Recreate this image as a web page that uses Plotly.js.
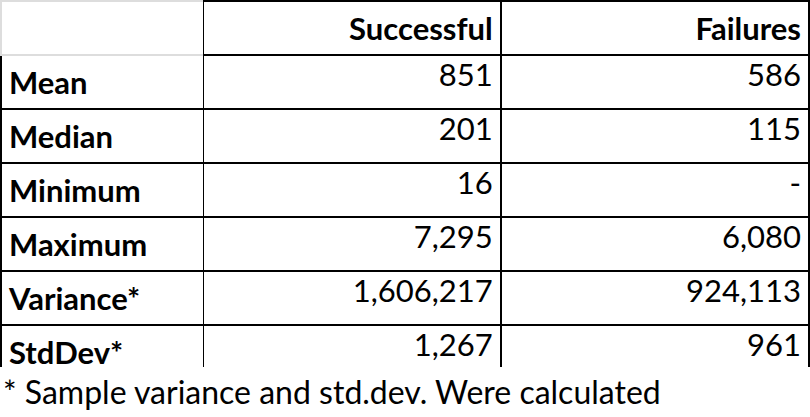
<!DOCTYPE html>
<html><head><script src="https://cdn.plot.ly/plotly-3.0.1.min.js"></script>
<style>body{margin:0;background:#fff}</style></head>
<body><div id="c" style="width:810px;height:417px"></div>
<script>
const headers = ["", "Successful", "Failures"];
const rowLabels = ["Mean", "Median", "Minimum", "Maximum", "Variance*", "StdDev*"];
const successful = ["851", "201", "16", "7,295", "1,606,217", "1,267"];
const failures = ["586", "115", "-", "6,080", "924,113", "961"];
const footnote = "* Sample variance and std.dev. Were calculated";

const F = "Lato, 'Noto Sans', sans-serif";
Plotly.newPlot("c", [{
  type: "table",
  columnwidth: [203, 298, 309],
  domain: {x: [0, 1], y: [0.12, 1]},
  header: {
    values: headers.map(h => h ? "<b>" + h + "</b>" : ""),
    align: ["left", "right", "right"],
    height: 52,
    font: {family: F, size: 31, color: "#000"},
    fill: {color: "#fff"},
    line: {color: ["#dddddd", "#000", "#000"], width: 1.5}
  },
  cells: {
    values: [rowLabels.map(r => "<b>" + r + "</b>"), successful, failures],
    align: ["left", "right", "right"],
    height: 52,
    font: {family: F, size: 31, color: "#000"},
    fill: {color: "#fff"},
    line: {color: "#000", width: 1.5}
  }
}], {
  width: 810, height: 417,
  margin: {l: 1, r: 1, t: 1, b: 0},
  paper_bgcolor: "#fff",
  annotations: [{
    text: footnote, xref: "paper", yref: "paper", x: 0, y: 0.01,
    xanchor: "left", yanchor: "bottom", showarrow: false,
    font: {family: F, size: 32, color: "#000"}
  }]
}, {displayModeBar: false});
</script></body></html>
